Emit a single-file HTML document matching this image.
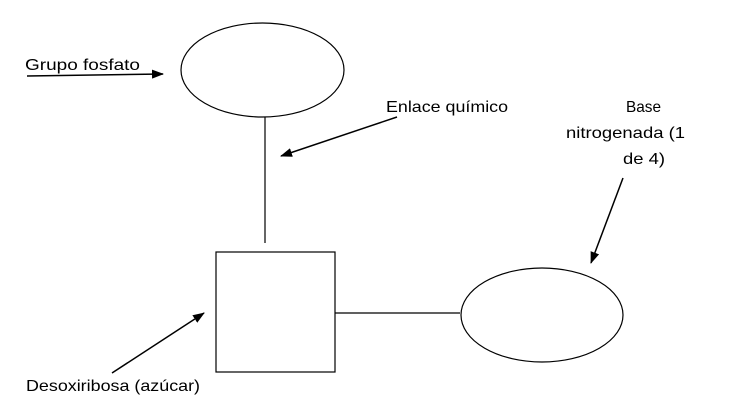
<!DOCTYPE html>
<html><head><meta charset="utf-8"><style>
html,body{margin:0;padding:0;background:#fff;}
svg{display:block;}
text{font-family:"Liberation Sans",sans-serif;font-size:16px;fill:#000;}
</style></head><body>
<svg width="745" height="414" viewBox="0 0 745 414" xmlns="http://www.w3.org/2000/svg">
<defs>
<marker id="a" markerWidth="12" markerHeight="9" refX="11" refY="4.5" orient="auto" markerUnits="userSpaceOnUse">
<path d="M0,0 L12,4.5 L0,9 z" fill="#000"/>
</marker>
</defs>
<g fill="none" stroke="#000" stroke-width="1.2">
<ellipse cx="262.5" cy="70" rx="81.5" ry="47"/>
<line x1="265" y1="117" x2="265" y2="243"/>
<rect x="216" y="252" width="119" height="120"/>
<line x1="335" y1="313" x2="460" y2="313"/>
<ellipse cx="542" cy="315" rx="81" ry="47"/>
<line x1="27" y1="76" x2="163" y2="74" stroke-width="1.5" marker-end="url(#a)"/>
<line x1="397" y1="117" x2="281" y2="156" stroke-width="1.5" marker-end="url(#a)"/>
<line x1="623" y1="178" x2="591" y2="263" stroke-width="1.5" marker-end="url(#a)"/>
<line x1="112" y1="373" x2="204" y2="313" stroke-width="1.5" marker-end="url(#a)"/>
</g>
<text x="25" y="70" textLength="115" lengthAdjust="spacingAndGlyphs">Grupo fosfato</text>
<text x="386" y="112" textLength="122" lengthAdjust="spacingAndGlyphs">Enlace químico</text>
<text x="626" y="112" textLength="35" lengthAdjust="spacingAndGlyphs">Base</text>
<text x="566" y="138" textLength="119" lengthAdjust="spacingAndGlyphs">nitrogenada (1</text>
<text x="623" y="164" textLength="42" lengthAdjust="spacingAndGlyphs">de 4)</text>
<text x="26" y="391" textLength="174" lengthAdjust="spacingAndGlyphs">Desoxiribosa (azúcar)</text>
</svg>
</body></html>
